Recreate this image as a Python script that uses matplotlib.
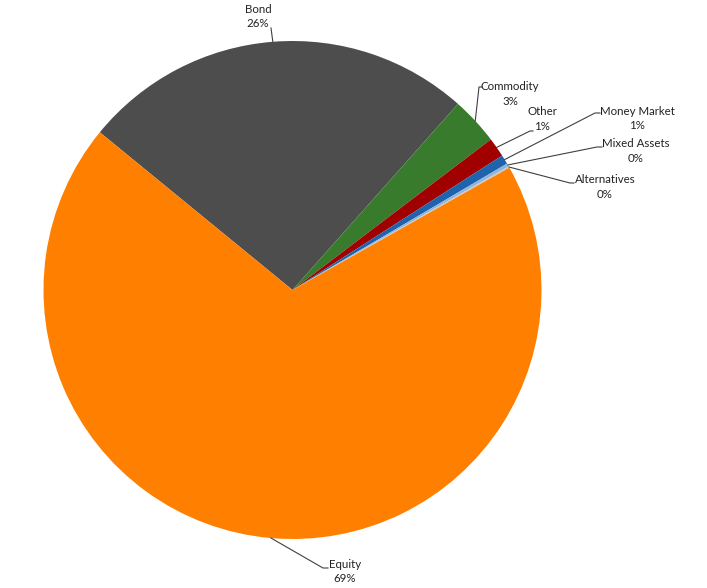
import matplotlib.pyplot as plt
import numpy as np

# Portfolio split by asset class (percent), in drawing order (clockwise)
labels = ['Bond', 'Commodity', 'Other', 'Money Market', 'Mixed Assets',
          'Alternatives', 'Equity']
shares = [25.65, 3.1, 1.26, 0.6, 0.2, 0.1, 69.09]
colors = ['#4d4d4d', '#387b2c', '#a00000', '#1f63ad', '#8fb4dc',
          '#c8c8c8', '#ff8000']

# Layout (pixels in a 707x588 picture)
W, H = 707, 588
CX, CY, R = 292.5, 290, 249
label_pos = {
    'Bond': (258, 16.5),
    'Commodity': (510, 94),
    'Other': (542, 119),
    'Money Market': (637, 118.7),
    'Mixed Assets': (636, 151),
    'Alternatives': (605, 187),
    'Equity': (345, 571.3),
}
leader_ends = {
    'Bond': [(271, 28)],
    'Commodity': [(479, 87), (482, 87)],
    'Other': [(530, 131), (533, 131)],
    'Money Market': [(595, 113), (600, 113)],
    'Mixed Assets': [(597, 147), (602, 147)],
    'Alternatives': [(570, 183), (574, 183)],
    'Equity': [(323, 568), (328, 568)],
}


def to_data(px, py):
    return (px - CX) / R, (CY - py) / R


if __name__ == '__main__':
    plt.rcParams['font.family'] = ['Lato', 'DejaVu Sans']

    fig = plt.figure(figsize=(W / 100, H / 100), dpi=100)
    ax = fig.add_axes([(CX - R) / W, (H - CY - R) / H, 2 * R / W, 2 * R / H])

    wedges, _ = ax.pie(shares, colors=colors, startangle=140.7,
                       counterclock=False, radius=1, frame=False,
                       wedgeprops=dict(linewidth=0))
    ax.set_xlim(-1, 1)
    ax.set_ylim(-1, 1)
    ax.axis('off')

    for w, name, val in zip(wedges, labels, shares):
        mid = np.deg2rad((w.theta1 + w.theta2) / 2)
        edge = (np.cos(mid), np.sin(mid))
        pts = [edge] + [to_data(*p) for p in leader_ends[name]]
        xs, ys = zip(*pts)
        ax.plot(xs, ys, color='#404040', lw=0.8, clip_on=False)
        tx, ty = to_data(*label_pos[name])
        ax.text(tx, ty, '{}\n{:.0f}%'.format(name, round(val)),
                ha='center', va='center', fontsize=8.3, color='#222222',
                linespacing=1.35)

    fig.savefig('out.png', dpi=100)
